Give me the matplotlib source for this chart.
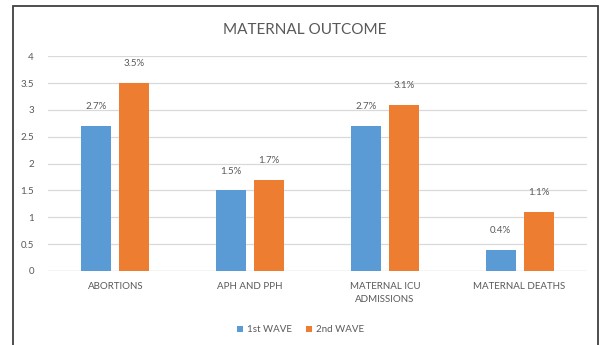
import matplotlib.pyplot as plt
from matplotlib.patches import Rectangle
import numpy as np

plt.rcParams['font.family'] = ['Lato', 'DejaVu Sans']

# Maternal outcome by wave (%)
categories = ['ABORTIONS', 'APH AND PPH', 'MATERNAL ICU\nADMISSIONS', 'MATERNAL DEATHS']
first_wave = [2.7, 1.5, 2.7, 0.4]
second_wave = [3.5, 1.7, 3.1, 1.1]
y_ticks = [0, 0.5, 1, 1.5, 2, 2.5, 3, 3.5, 4]

blue = '#5B9BD5'
orange = '#ED7D31'
text_grey = '#595959'

fig = plt.figure(figsize=(6.07, 3.45), dpi=100)
ax = fig.add_axes([0.079, 0.2145, 0.888, 0.6223])

# chart frame
fig.patches.append(Rectangle((13 / 607, -0.1), 585 / 607, 1.1 - 6 / 345,
                             transform=fig.transFigure, fill=False,
                             edgecolor='#404040', linewidth=1.3))

x = np.arange(len(categories))
w = 0.223
off = 0.141
b1 = ax.bar(x - off, first_wave, w, color=blue, label='1st WAVE', zorder=3)
b2 = ax.bar(x + off, second_wave, w, color=orange, label='2nd WAVE', zorder=3)

for bars, vals in ((b1, first_wave), (b2, second_wave)):
    for bar, v in zip(bars, vals):
        ax.annotate(f'{v}%', (bar.get_x() + bar.get_width() / 2, v),
                    xytext=(0, 14), textcoords='offset points',
                    ha='center', va='center', fontsize=7, color=text_grey)

ax.set_xlim(-0.5, 3.5)
ax.set_ylim(0, 4)
ax.set_yticks(y_ticks)
ax.set_yticklabels([f'{t:g}' for t in y_ticks])
ax.set_xticks(x)
ax.set_xticklabels(categories, linespacing=1.5)
ax.tick_params(length=0, labelsize=7, colors=text_grey)
ax.tick_params(axis='y', pad=10)
ax.tick_params(axis='x', pad=8)
ax.grid(axis='y', color='#D9D9D9', linewidth=0.9, zorder=0)
for s in ax.spines.values():
    s.set_visible(False)
ax.axhline(0, color='#D9D9D9', linewidth=0.9, zorder=1)

fig.text(0.502, 0.912, 'MATERNAL OUTCOME', ha='center', va='center',
         fontsize=11, color=text_grey)

fig.legend(handles=[b1, b2], loc='center', bbox_to_anchor=(0.495, 0.044),
           ncol=2, frameon=False, fontsize=7, handlelength=0.6,
           handleheight=0.6, handletextpad=0.4, columnspacing=1.5,
           labelcolor=text_grey)

fig.savefig('out.png', dpi=100)
